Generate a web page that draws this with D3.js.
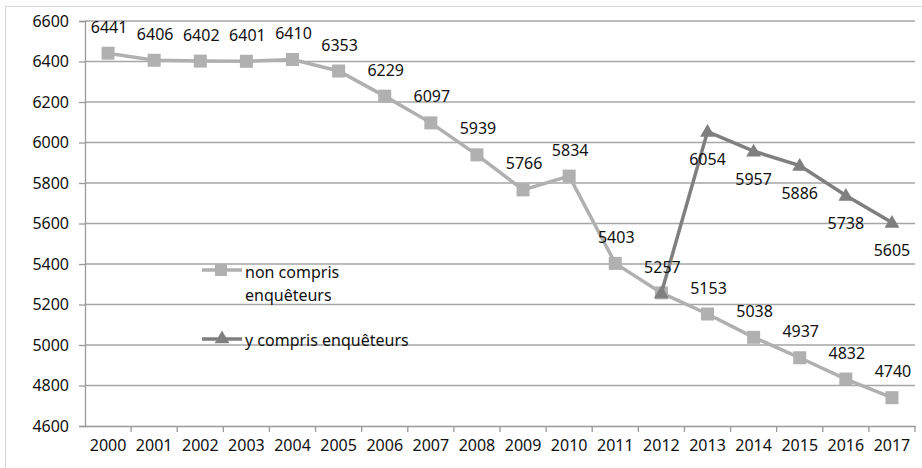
<!DOCTYPE html>
<html>
<head>
<meta charset="utf-8">
<script src="https://cdn.jsdelivr.net/npm/d3@7"></script>
<style>
  body { margin: 0; background: #fff; }
  svg { display: block; font-family: "Noto Sans", sans-serif; }
</style>
</head>
<body>
<div id="chart"></div>
<script>
const years = ['2000','2001','2002','2003','2004','2005','2006','2007','2008','2009','2010','2011','2012','2013','2014','2015','2016','2017'];
const nonCompris = [6441, 6406, 6402, 6401, 6410, 6353, 6229, 6097, 5939, 5766, 5834, 5403, 5257, 5153, 5038, 4937, 4832, 4740];
const yCompris = [null, null, null, null, null, null, null, null, null, null, null, null, 5257, 6054, 5957, 5886, 5738, 5605];
const yTicks = [4600, 4800, 5000, 5200, 5400, 5600, 5800, 6000, 6200, 6400, 6600];

const width = 922, height = 468;
const plotLeft = 85, plotRight = 915, plotTop = 21, plotBottom = 426;

const svg = d3.select('#chart').append('svg')
  .attr('width', width)
  .attr('height', height);

// outer frame
svg.append('rect')
  .attr('x', 5.5).attr('y', 6.5)
  .attr('width', width).attr('height', height)
  .attr('fill', 'none')
  .attr('stroke', '#d8d8d8');

const x = d3.scaleBand().domain(years).range([plotLeft, plotRight]).padding(0);
const y = d3.scaleLinear().domain([4600, 6600]).range([plotBottom, plotTop]);
const cx = d => x(d) + x.bandwidth() / 2;

// gridlines
svg.append('g')
  .selectAll('line')
  .data(yTicks.slice(1))
  .enter()
  .append('line')
  .attr('x1', plotLeft).attr('x2', plotRight)
  .attr('y1', d => y(d)).attr('y2', d => y(d))
  .attr('stroke', '#a6a6a6')
  .attr('stroke-width', 1.3);

// y axis
const yAxis = svg.append('g')
  .attr('transform', `translate(${plotLeft},0)`)
  .call(d3.axisLeft(y).tickValues(yTicks).tickSize(6).tickPadding(10).tickFormat(d3.format('d')));
yAxis.select('.domain').attr('stroke', '#999').attr('stroke-width', 1.3);
yAxis.selectAll('.tick line').attr('stroke', '#999').attr('stroke-width', 1.3);
yAxis.selectAll('text').attr('fill', '#111').style('font-size', '16px').style('font-family', '"Noto Sans", sans-serif');

// x axis, ticks on category boundaries
const xAxis = svg.append('g')
  .attr('transform', `translate(0,${plotBottom})`)
  .call(d3.axisBottom(x).tickSize(0).tickPadding(14));
xAxis.select('.domain').attr('stroke', '#999').attr('stroke-width', 1.3);
xAxis.selectAll('text').attr('fill', '#111').style('font-size', '16px').style('font-family', '"Noto Sans", sans-serif');
svg.append('g')
  .selectAll('line')
  .data(years)
  .enter()
  .append('line')
  .attr('x1', d => x(d) + x.bandwidth()).attr('x2', d => x(d) + x.bandwidth())
  .attr('y1', plotBottom).attr('y2', plotBottom + 6)
  .attr('stroke', '#999').attr('stroke-width', 1.3);

const light = '#b0b0b0';
const dark = '#7f7f7f';

const line = d3.line()
  .defined(d => d.v != null)
  .x(d => cx(d.year))
  .y(d => y(d.v));

const s1 = years.map((yr, i) => ({ year: yr, v: nonCompris[i] }));
const s2 = years.map((yr, i) => ({ year: yr, v: yCompris[i] }));

svg.append('path')
  .datum(s1)
  .attr('d', line)
  .attr('fill', 'none')
  .attr('stroke', light)
  .attr('stroke-width', 3.5);

svg.append('g')
  .selectAll('rect')
  .data(s1)
  .enter()
  .append('rect')
  .attr('x', d => cx(d.year) - 6.5)
  .attr('y', d => y(d.v) - 6.5)
  .attr('width', 13).attr('height', 13)
  .attr('fill', light);

svg.append('path')
  .datum(s2)
  .attr('d', line)
  .attr('fill', 'none')
  .attr('stroke', dark)
  .attr('stroke-width', 3.5);

const tri = d3.symbol().type(d3.symbolTriangle).size(95);
svg.append('g')
  .selectAll('path')
  .data(s2.filter(d => d.v != null))
  .enter()
  .append('path')
  .attr('d', tri)
  .attr('transform', d => `translate(${cx(d.year)},${y(d.v) + 1})`)
  .attr('fill', dark);

// data labels
svg.append('g')
  .selectAll('text')
  .data(s1)
  .enter()
  .append('text')
  .attr('x', d => cx(d.year) + 1)
  .attr('y', d => y(d.v) - 26)
  .attr('dy', '0.35em')
  .attr('text-anchor', 'middle')
  .attr('fill', '#111')
  .style('font-size', '16px')
  .text(d => d.v);

svg.append('g')
  .selectAll('text')
  .data(s2.filter((d, i) => d.v != null && i > 12))
  .enter()
  .append('text')
  .attr('x', d => cx(d.year))
  .attr('y', d => y(d.v) + 28)
  .attr('dy', '0.35em')
  .attr('text-anchor', 'middle')
  .attr('fill', '#111')
  .style('font-size', '16px')
  .text(d => d.v);

// legend
const lg = svg.append('g');
lg.append('line').attr('x1', 202).attr('x2', 242).attr('y1', 270).attr('y2', 270)
  .attr('stroke', light).attr('stroke-width', 3.5);
lg.append('rect').attr('x', 215).attr('y', 264).attr('width', 12).attr('height', 12).attr('fill', light);
lg.append('text').attr('x', 245).attr('y', 272).attr('dy', '0.35em')
  .attr('fill', '#111').style('font-size', '16px').text('non compris');
lg.append('text').attr('x', 245).attr('y', 295).attr('dy', '0.35em')
  .attr('fill', '#111').style('font-size', '16px').text('enquêteurs');

lg.append('line').attr('x1', 202).attr('x2', 242).attr('y1', 339).attr('y2', 339)
  .attr('stroke', dark).attr('stroke-width', 3.5);
lg.append('path').attr('d', tri).attr('transform', 'translate(222,339)').attr('fill', dark);
lg.append('text').attr('x', 245).attr('y', 340).attr('dy', '0.35em')
  .attr('fill', '#111').style('font-size', '16px').text('y compris enquêteurs');
</script>
</body>
</html>
